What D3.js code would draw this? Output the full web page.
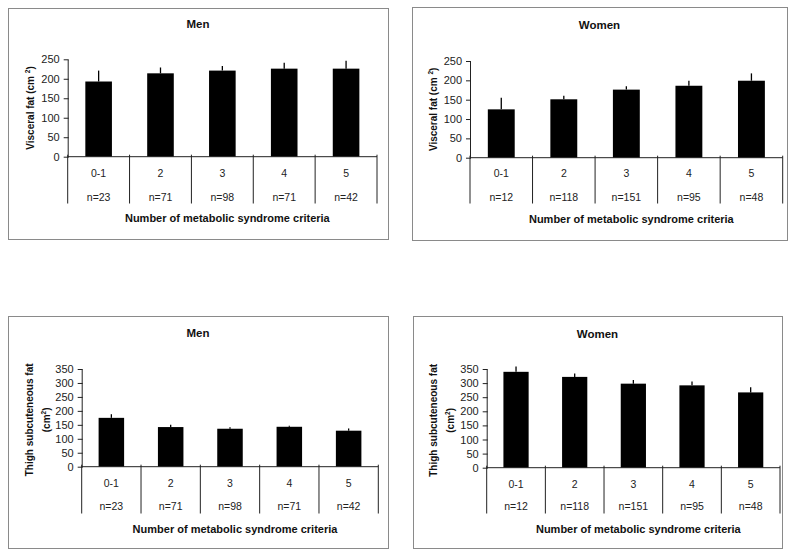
<!DOCTYPE html>
<html>
<head>
<meta charset="utf-8">
<script src="https://cdn.jsdelivr.net/npm/d3@7"></script>
<style>
  body { margin: 0; background: #fff; }
  svg { display: block; font-family: Arial, "Liberation Sans", sans-serif; }
</style>
</head>
<body>
<svg id="chart" width="800" height="556"></svg>
<script>
// ---- data ----
const categories = ["0-1", "2", "3", "4", "5"];
const menCounts = ["n=23", "n=71", "n=98", "n=71", "n=42"];
const womenCounts = ["n=12", "n=118", "n=151", "n=95", "n=48"];

const menVisceral = [193, 214, 221, 226, 226];
const menVisceralErr = [28, 15, 12, 15, 20];
const womenVisceral = [125, 151, 176, 186, 199];
const womenVisceralErr = [30, 9, 9, 13, 19];

const menThigh = [175, 142, 136, 143, 129];
const menThighErr = [13, 8, 5, 4, 8];
const womenThigh = [340, 322, 298, 292, 267];
const womenThighErr = [19, 12, 13, 14, 18];

const visceralTicks = [0, 50, 100, 150, 200, 250];
const thighTicks = [0, 50, 100, 150, 200, 250, 300, 350];

const titles = ["Men", "Women", "Men", "Women"];
const xTitle = "Number of metabolic syndrome criteria";

// ---- layout ----
const panels = [
  { title: titles[0], vals: menVisceral, errs: menVisceralErr, counts: menCounts, ticks: visceralTicks,
    frame: [8, 8, 388, 239], x0: 67.7, x1: 377, yBase: 156.7, yTop: 59.3,
    titleY: 24, catY: 173, nY: 197, divB: 203.5, xtY: 218, ylab: "visceral", ylx: 30 },
  { title: titles[1], vals: womenVisceral, errs: womenVisceralErr, counts: womenCounts, ticks: visceralTicks,
    frame: [412, 7, 787, 240], x0: 470, x1: 782.7, yBase: 157.7, yTop: 61,
    titleY: 25, catY: 173.5, nY: 197, divB: 203.5, xtY: 219, ylab: "visceral", ylx: 433 },
  { title: titles[2], vals: menThigh, errs: menThighErr, counts: menCounts, ticks: thighTicks,
    frame: [8, 316, 388, 548], x0: 81.7, x1: 378.3, yBase: 466.7, yTop: 369,
    titleY: 333, catY: 483.5, nY: 506, divB: 513.5, xtY: 528.5, ylab: "thigh", ylx: 29 },
  { title: titles[3], vals: womenThigh, errs: womenThighErr, counts: womenCounts, ticks: thighTicks,
    frame: [413, 316, 782, 548], x0: 486.7, x1: 780, yBase: 467.7, yTop: 369,
    titleY: 333.5, catY: 484, nY: 506, divB: 513.5, xtY: 528.5, ylab: "thigh", ylx: 433 }
];

const svg = d3.select("#chart");
const ink = "#111";

panels.forEach(p => {
  const g = svg.append("g");
  const [fx0, fy0, fx1, fy1] = p.frame;
  g.append("rect").attr("x", fx0 + 0.5).attr("y", fy0 + 0.5)
    .attr("width", fx1 - fx0).attr("height", fy1 - fy0)
    .attr("fill", "#fff").attr("stroke", "#8a8a8a").attr("stroke-width", 1);

  const yMax = d3.max(p.ticks);
  const y = d3.scaleLinear().domain([0, yMax]).range([p.yBase, p.yTop]);
  const x = d3.scaleBand().domain(categories).range([p.x0, p.x1]).paddingInner(0).paddingOuter(0);
  const bw = x.bandwidth() * 0.43;

  // title
  g.append("text").attr("x", (fx0 + fx1) / 2).attr("y", p.titleY + 4)
    .attr("text-anchor", "middle").attr("font-size", 11.5).attr("font-weight", "bold")
    .attr("fill", ink).text(p.title);

  // y axis
  const yAxis = d3.axisLeft(y).tickValues(p.ticks).tickSize(4).tickSizeOuter(0).tickPadding(4);
  const ya = g.append("g").attr("transform", `translate(${p.x0},0)`).call(yAxis);
  ya.select(".domain").attr("stroke", "#222");
  ya.selectAll(".tick line").attr("stroke", "#222").attr("x2", -4).attr("x1", 1);
  ya.selectAll(".tick text").attr("font-size", 11).attr("fill", "#222")
    .attr("font-family", "Arial, 'Liberation Sans', sans-serif");

  // bars
  g.selectAll("rect.bar").data(p.vals).enter().append("rect").attr("class", "bar")
    .attr("x", (d, i) => x(categories[i]) + x.bandwidth() / 2 - bw / 2)
    .attr("width", bw)
    .attr("y", d => y(d))
    .attr("height", d => p.yBase - y(d))
    .attr("fill", "#000");

  // error bars (upper only)
  g.selectAll("line.err").data(p.vals).enter().append("line").attr("class", "err")
    .attr("x1", (d, i) => x(categories[i]) + x.bandwidth() / 2)
    .attr("x2", (d, i) => x(categories[i]) + x.bandwidth() / 2)
    .attr("y1", d => y(d))
    .attr("y2", (d, i) => y(d + p.errs[i]))
    .attr("stroke", "#000").attr("stroke-width", 1.3);

  // x axis line
  g.append("line").attr("x1", p.x0).attr("x2", p.x1)
    .attr("y1", p.yBase).attr("y2", p.yBase)
    .attr("stroke", "#222").attr("stroke-width", 1);

  // category dividers
  const bounds = categories.map(c => x(c)).concat([p.x1]);
  g.selectAll("line.div").data(bounds).enter().append("line").attr("class", "div")
    .attr("x1", d => d).attr("x2", d => d)
    .attr("y1", p.yBase - 2).attr("y2", p.divB)
    .attr("stroke", "#222").attr("stroke-width", 1);

  // category labels
  g.selectAll("text.cat").data(categories).enter().append("text").attr("class", "cat")
    .attr("x", d => x(d) + x.bandwidth() / 2).attr("y", p.catY + 3.5)
    .attr("text-anchor", "middle").attr("font-size", 10.5).attr("fill", "#222").text(d => d);

  g.selectAll("text.cnt").data(p.counts).enter().append("text").attr("class", "cnt")
    .attr("x", (d, i) => x(categories[i]) + x.bandwidth() / 2).attr("y", p.nY + 3.5)
    .attr("text-anchor", "middle").attr("font-size", 10.5).attr("fill", "#222").text(d => d);

  // x title
  g.append("text").attr("x", (p.x0 + p.x1) / 2 + 5).attr("y", p.xtY + 4)
    .attr("text-anchor", "middle").attr("font-size", 11).attr("font-weight", "bold")
    .attr("fill", ink).text(xTitle);

  // y label
  const yMid = (p.yBase + p.yTop) / 2;
  if (p.ylab === "visceral") {
    const t = g.append("text").attr("transform", `translate(${p.ylx + 3.5},${yMid}) rotate(-90)`)
      .attr("text-anchor", "middle").attr("font-size", 10).attr("font-weight", "bold").attr("fill", ink);
    t.append("tspan").text("Visceral fat (cm ");
    t.append("tspan").attr("font-size", 6.5).attr("dy", -4).text("2");
    t.append("tspan").attr("dy", 4).text(")");
  } else {
    const t1 = g.append("text").attr("transform", `translate(${p.ylx + 3.5},${yMid + 2}) rotate(-90)`)
      .attr("text-anchor", "middle").attr("font-size", 10).attr("font-weight", "bold").attr("fill", ink)
      .text("Thigh subcuteneous fat");
    const t2 = g.append("text").attr("transform", `translate(${p.ylx + 21},${yMid + 2}) rotate(-90)`)
      .attr("text-anchor", "middle").attr("font-size", 10).attr("font-weight", "bold").attr("fill", ink);
    t2.append("tspan").text("(cm");
    t2.append("tspan").attr("font-size", 6.5).attr("dy", -4).text("2");
    t2.append("tspan").attr("dy", 4).text(")");
  }
});
</script>
</body>
</html>
